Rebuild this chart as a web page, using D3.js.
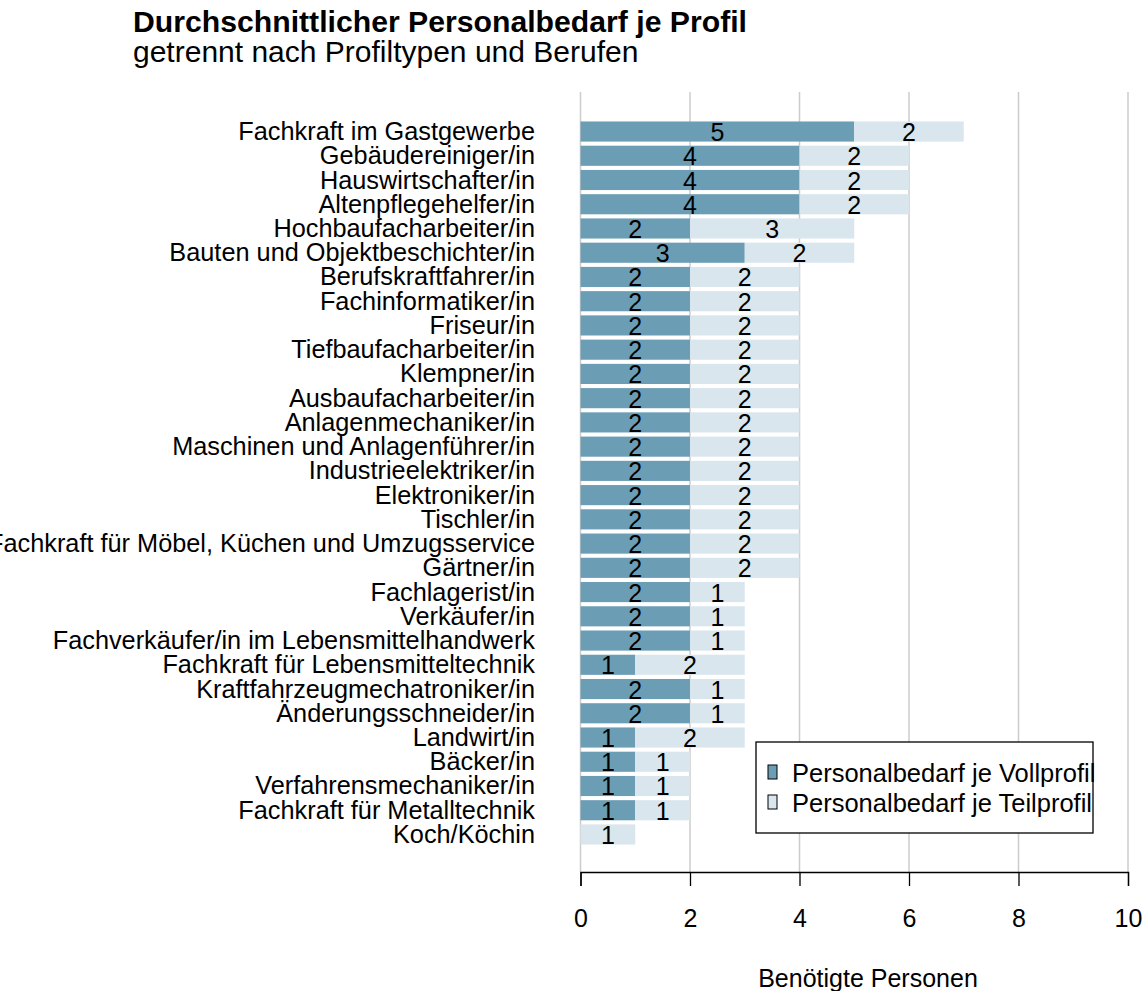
<!DOCTYPE html>
<html><head><meta charset="utf-8">
<script src="https://cdn.jsdelivr.net/npm/d3@7"></script>
<style>body{margin:0;background:#fff}svg{font-family:"Liberation Sans",Arial,sans-serif}</style>
</head><body><svg id="c" width="1144" height="991"></svg>
<script>
const categories = ["Fachkraft im Gastgewerbe","Gebäudereiniger/in","Hauswirtschafter/in","Altenpflegehelfer/in","Hochbaufacharbeiter/in","Bauten und Objektbeschichter/in","Berufskraftfahrer/in","Fachinformatiker/in","Friseur/in","Tiefbaufacharbeiter/in","Klempner/in","Ausbaufacharbeiter/in","Anlagenmechaniker/in","Maschinen und Anlagenführer/in","Industrieelektriker/in","Elektroniker/in","Tischler/in","Fachkraft für Möbel, Küchen und Umzugsservice","Gärtner/in","Fachlagerist/in","Verkäufer/in","Fachverkäufer/in im Lebensmittelhandwerk","Fachkraft für Lebensmitteltechnik","Kraftfahrzeugmechatroniker/in","Änderungsschneider/in","Landwirt/in","Bäcker/in","Verfahrensmechaniker/in","Fachkraft für Metalltechnik","Koch/Köchin"];
const vollprofil = [5,4,4,4,2,3,2,2,2,2,2,2,2,2,2,2,2,2,2,2,2,2,1,2,2,1,1,1,1,0];
const teilprofil = [2,2,2,2,3,2,2,2,2,2,2,2,2,2,2,2,2,2,2,1,1,1,2,1,1,2,1,1,1,1];
const xTicks = [0,2,4,6,8,10];
const seriesNames = ["Personalbedarf je Vollprofil","Personalbedarf je Teilprofil"];
const colors = ["#6b9db5","#d9e6ee"];

const svg = d3.select("#c");
const x = d3.scaleLinear().domain([0,10]).range([580.5,1128]);
const y = d3.scaleBand().domain(categories).range([120.5,845.5]).paddingInner(0.17).paddingOuter(0.04);

svg.append("text").attr("x",133).attr("y",32).attr("font-size",30.2).attr("font-weight","bold").text("Durchschnittlicher Personalbedarf je Profil");
svg.append("text").attr("x",133).attr("y",62).attr("font-size",30).text("getrennt nach Profiltypen und Berufen");

// gridlines
svg.append("g").selectAll("line").data(xTicks).join("line")
  .attr("x1",d=>x(d)).attr("x2",d=>x(d)).attr("y1",92).attr("y2",872)
  .attr("stroke","#cccccc").attr("stroke-width",1.5);

const data = categories.map((c,i)=>({c,v:vollprofil[i],t:teilprofil[i]}));
const g = svg.append("g");
g.selectAll("rect.v").data(data.filter(d=>d.v>0)).join("rect").attr("class","v")
  .attr("x",x(0)).attr("y",d=>y(d.c)).attr("width",d=>x(d.v)-x(0)).attr("height",y.bandwidth()).attr("fill",colors[0]);
g.selectAll("rect.t").data(data).join("rect").attr("class","t")
  .attr("x",d=>x(d.v)).attr("y",d=>y(d.c)).attr("width",d=>x(d.v+d.t)-x(d.v)).attr("height",y.bandwidth()).attr("fill",colors[1]);
g.selectAll("text.v").data(data.filter(d=>d.v>0)).join("text").attr("class","v")
  .attr("x",d=>x(d.v/2)).attr("y",d=>y(d.c)+y.bandwidth()/2+9.5).attr("text-anchor","middle").attr("font-size",25).text(d=>d.v);
g.selectAll("text.t").data(data).join("text").attr("class","t")
  .attr("x",d=>x(d.v+d.t/2)).attr("y",d=>y(d.c)+y.bandwidth()/2+9.5).attr("text-anchor","middle").attr("font-size",25).text(d=>d.t);

// category labels
svg.append("g").selectAll("text").data(categories).join("text")
  .attr("x",535).attr("y",d=>y(d)+y.bandwidth()/2+8.5).attr("text-anchor","end").attr("font-size",25.3).text(d=>d);

// axis
const ax = svg.append("g").attr("transform","translate(0,872)")
  .call(d3.axisBottom(x).tickValues(xTicks).tickSize(14).tickPadding(18).tickFormat(d3.format("d")));
ax.select(".domain").attr("stroke","#000").attr("stroke-width",1.3);
ax.selectAll(".tick line").attr("stroke","#000").attr("stroke-width",1.3);
ax.selectAll(".tick text").attr("font-size",25).attr("font-family","Liberation Sans, Arial, sans-serif").attr("fill","#000").attr("dy",null).attr("y",55);
svg.append("text").attr("x",868).attr("y",987).attr("text-anchor","middle").attr("font-size",25).text("Benötigte Personen");

// legend
const lg = svg.append("g");
lg.append("rect").attr("x",756).attr("y",742).attr("width",337).attr("height",91).attr("fill","#fff").attr("stroke","#000").attr("stroke-width",1.3);
seriesNames.forEach((n,i)=>{
  lg.append("rect").attr("x",768).attr("y",765+i*30).attr("width",9).attr("height",14).attr("fill",colors[i]).attr("stroke","#000").attr("stroke-width",1);
  lg.append("text").attr("x",792).attr("y",782+i*30).attr("font-size",25.5).text(n);
});
</script></body></html>
